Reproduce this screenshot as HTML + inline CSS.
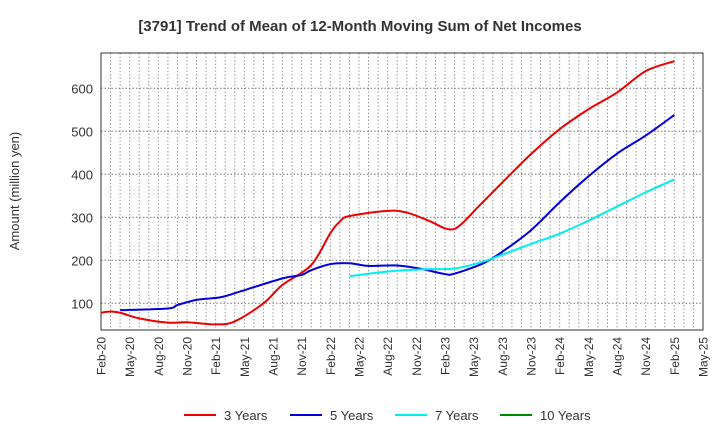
<!DOCTYPE html>
<html><head><meta charset="utf-8"><style>
body{margin:0;background:#fff;font-family:"Liberation Sans",sans-serif}
</style></head><body>
<svg id="c" width="720" height="440" xmlns="http://www.w3.org/2000/svg">
<text x="360" y="31" text-anchor="middle" font-size="15" font-weight="bold" fill="#333">[3791]  Trend of Mean of 12-Month Moving Sum of Net Incomes</text>
<text transform="translate(19,191) rotate(-90)" text-anchor="middle" font-size="13" fill="#333">Amount (million yen)</text>
<g id="grid"></g><g id="axes"></g><g id="series"></g><g id="legend"></g>
</svg>
<script>
const xLabels=["Feb-20","May-20","Aug-20","Nov-20","Feb-21","May-21","Aug-21","Nov-21","Feb-22","May-22","Aug-22","Nov-22","Feb-23","May-23","Aug-23","Nov-23","Feb-24","May-24","Aug-24","Nov-24","Feb-25","May-25"];
const yTicks=[100,200,300,400,500,600];
const seriesNames=["3 Years","5 Years","7 Years","10 Years"];
const seriesColors=["#e00","#00d","#0ee","#080"];
const m3=[0,1,2,4,7,9,12,14,17,19,22,24,25,26,30,32,34.5,36,37,38,39.5,42,45,48,51,54,57,60];
const v3=[78,81,78,65,55,56,51,58,100,143,189,263,290,303,315,311,290,274,273,290,325,381,447,505,551,590,640,663];
const m5=[2,7,8,10,12.5,14.5,19,21,22,24,26,28,31,33.5,36,37,40,42,45,48,51,54,57,60];
const v5=[84,88,96,108,114,127,158,166,177,191,193,187,188,180,168,169,193,220,270,335,395,448,490,538];
const m7=[26,30,33.5,37,40,42,45,48,51,54,57,60];
const v7=[163,174,179,181,197,213,238,262,292,325,358,388];
const L=101,R=703,T=53,B=330,NM=63;
const x=m=>L+(R-L)*m/NM, y=v=>346.3-v*0.43;
const NS="http://www.w3.org/2000/svg";
function mk(p,t,a){const e=document.createElementNS(NS,t);for(const k in a)e.setAttribute(k,a[k]);p.appendChild(e);return e;}
const g=document.getElementById('grid'),ax=document.getElementById('axes'),se=document.getElementById('series'),lg=document.getElementById('legend');
for(let m=1;m<NM;m++){const l=mk(g,'line',{x1:x(m),x2:x(m),y1:T,y2:B,stroke:'#999','stroke-dasharray':'1.5,2','stroke-width':1});

}
yTicks.forEach(v=>{const l=mk(g,'line',{x1:L,x2:R,y1:y(v),y2:y(v),stroke:'#777','stroke-dasharray':'1.5,2','stroke-width':1});


const t=mk(ax,'text',{x:L-8,y:y(v)+5,'text-anchor':'end','font-size':13,fill:'#333'});t.textContent=v;

});
const fr=mk(ax,'rect',{x:L,y:T,width:R-L,height:B-T,fill:'none',stroke:'#333','stroke-width':1});


xLabels.forEach((s,i)=>{const xx=x(i*3);const t=mk(ax,'text',{transform:`translate(${xx+4.5},${B+7}) rotate(-90)`,'text-anchor':'end','font-size':12,fill:'#333'});t.textContent=s;

});
function path(ms,vs){const P=ms.map((m,i)=>[x(m),y(vs[i])]);let d=`M${P[0][0]},${P[0][1]}`;
for(let i=0;i<P.length-1;i++){const p0=P[i-1]||P[i],p1=P[i],p2=P[i+1],p3=P[i+2]||p2;
d+=` C${p1[0]+(p2[0]-p0[0])/6},${p1[1]+(p2[1]-p0[1])/6} ${p2[0]-(p3[0]-p1[0])/6},${p2[1]-(p3[1]-p1[1])/6} ${p2[0]},${p2[1]}`;}return d;}
[[m3,v3,0],[m5,v5,1],[m7,v7,2]].forEach(([m,v,k])=>{const p=mk(se,'path',{d:path(m,v),fill:'none',stroke:seriesColors[k],'stroke-width':2});

});
const lx=[184,290,395,500];
seriesNames.forEach((n,k)=>{const l=mk(lg,'line',{x1:lx[k],x2:lx[k]+32,y1:415,y2:415,stroke:seriesColors[k],'stroke-width':2});


const t=mk(lg,'text',{x:lx[k]+40,y:420,'font-size':13,fill:'#333'});t.textContent=n;

});
</script>
</body></html>
